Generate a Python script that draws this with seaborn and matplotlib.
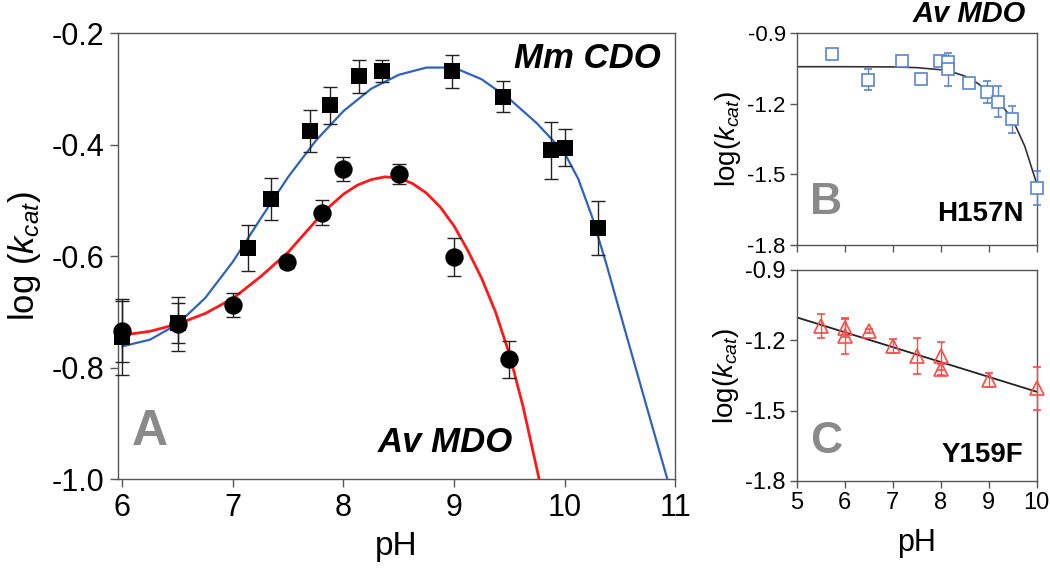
import numpy as np
import pandas as pd
import seaborn as sns
import matplotlib.pyplot as plt

# ---- panel A data: Mm CDO (squares) and Av MDO (circles) ----
cdo_ph = [6.0, 6.5, 7.14, 7.34, 7.70, 7.88, 8.14, 8.35, 8.98, 9.44, 9.88, 10.0, 10.3]
cdo_log = [-0.745, -0.72, -0.586, -0.498, -0.376, -0.330, -0.278, -0.268, -0.269, -0.314, -0.410, -0.406, -0.550]
cdo_err = [0.068, 0.036, 0.041, 0.038, 0.038, 0.033, 0.030, 0.020, 0.030, 0.028, 0.051, 0.033, 0.048]

mdo_ph = [6.0, 6.5, 7.0, 7.49, 7.81, 8.0, 8.5, 9.0, 9.5]
mdo_log = [-0.735, -0.722, -0.688, -0.611, -0.522, -0.444, -0.453, -0.601, -0.785]
mdo_err = [0.055, 0.048, 0.022, 0.010, 0.023, 0.021, 0.018, 0.034, 0.033]

# fitted curves
cdo_fit_ph = [6.0, 6.25, 6.5, 6.75, 7.0, 7.25, 7.5, 7.75, 8.0, 8.25, 8.5, 8.75, 9.0,
              9.25, 9.5, 9.75, 10.0, 10.125, 10.25, 10.375, 10.5, 10.75, 10.93]
cdo_fit_log = [-0.762, -0.750, -0.722, -0.675, -0.610, -0.533, -0.458, -0.393, -0.340, -0.300,
               -0.275, -0.262, -0.262, -0.283, -0.318, -0.362, -0.415, -0.462, -0.530, -0.612,
               -0.700, -0.875, -1.0]
mdo_fit_ph = [6.0, 6.25, 6.5, 6.75, 7.0, 7.25, 7.5, 7.75, 7.875, 8.0, 8.125, 8.25, 8.375,
              8.5, 8.625, 8.75, 8.875, 9.0, 9.125, 9.25, 9.375, 9.5, 9.625, 9.77]
mdo_fit_log = [-0.742, -0.735, -0.722, -0.703, -0.676, -0.637, -0.593, -0.537, -0.511, -0.489,
               -0.473, -0.463, -0.458, -0.460, -0.470, -0.487, -0.512, -0.546, -0.590, -0.640,
               -0.700, -0.775, -0.870, -1.0]

# ---- panel B: H157N ----
h157_ph = [5.73, 6.49, 7.19, 7.58, 7.99, 8.16, 8.16, 8.59, 8.96, 9.20, 9.49, 10.0]
h157_log = [-0.989, -1.098, -1.018, -1.094, -1.018, -1.020, -1.052, -1.112, -1.148, -1.190, -1.265, -1.559]
h157_err = [0.0, 0.045, 0.010, 0.005, 0.010, 0.010, 0.070, 0.010, 0.047, 0.065, 0.057, 0.073]
h157_fit_ph = [5.0, 6.0, 7.0, 7.5, 8.0, 8.25, 8.5, 8.75, 9.0, 9.25, 9.5, 9.75, 10.0]
h157_fit_log = [-1.042, -1.042, -1.043, -1.046, -1.055, -1.065, -1.082, -1.110, -1.148,
                -1.200, -1.268, -1.380, -1.540]

# ---- panel C: Y159F ----
y159_ph = [5.5, 6.0, 6.0, 6.5, 7.0, 7.5, 8.0, 8.0, 9.0, 10.0]
y159_log = [-1.140, -1.147, -1.183, -1.162, -1.224, -1.268, -1.268, -1.325, -1.371, -1.406]
y159_err = [0.050, 0.040, 0.075, 0.008, 0.030, 0.075, 0.060, 0.025, 0.030, 0.090]
y159_fit_ph = [5.0, 10.0]
y159_fit_log = [-1.103, -1.420]

sns.set_theme(style="white")
plt.rcParams["font.family"] = ["Liberation Sans", "DejaVu Sans"]
plt.rcParams["mathtext.fontset"] = "custom"
plt.rcParams["mathtext.rm"] = "Liberation Sans"
plt.rcParams["mathtext.it"] = "Liberation Sans:italic"
plt.rcParams["text.color"] = "black"
plt.rcParams["axes.labelcolor"] = "black"
plt.rcParams["xtick.color"] = "black"
plt.rcParams["ytick.color"] = "black"

SPINE = "#555555"
GRAY = "#8a8a8a"
BLUE = "#2f62c0"
RED = "#ff1a1a"
BLUE_B = "#5a84d2"
RED_C = "#ff4a4a"

fig = plt.figure(figsize=(10.5, 5.73), dpi=100)
axA = fig.add_axes([0.1124, 0.164, 0.5305, 0.7784])
axB = fig.add_axes([0.7588, 0.5724, 0.2286, 0.3695])
axC = fig.add_axes([0.7588, 0.1606, 0.2286, 0.3687])

for ax in (axA, axB, axC):
    for s in ax.spines.values():
        s.set_color(SPINE)
        s.set_linewidth(1.0)

# panel A
sns.lineplot(x=cdo_fit_ph, y=cdo_fit_log, ax=axA, color=BLUE, lw=1.6, sort=False, estimator=None)
sns.lineplot(x=mdo_fit_ph, y=mdo_fit_log, ax=axA, color=RED, lw=2.0, sort=False, estimator=None)
axA.errorbar(cdo_ph, cdo_log, yerr=cdo_err, fmt="none", ecolor="#222222", elinewidth=1.0,
             capsize=5, capthick=1.0, zorder=3, clip_on=False)
axA.errorbar(mdo_ph, mdo_log, yerr=mdo_err, fmt="none", ecolor="#222222", elinewidth=1.0,
             capsize=5, capthick=1.0, zorder=3, clip_on=False)
sns.scatterplot(x=cdo_ph, y=cdo_log, ax=axA, marker="s", s=144, color="black",
                edgecolor="black", linewidth=0, zorder=4, clip_on=False)
sns.scatterplot(x=mdo_ph, y=mdo_log, ax=axA, marker="o", s=175, color="black",
                edgecolor="black", linewidth=0, zorder=4, clip_on=False)
axA.set_xlim(5.96, 11)
axA.set_ylim(-1.0, -0.2)
axA.set_xticks([6, 7, 8, 9, 10, 11])
axA.set_yticks([-1.0, -0.8, -0.6, -0.4, -0.2])
axA.set_yticklabels(["-1.0", "-0.8", "-0.6", "-0.4", "-0.2"])
axA.tick_params(axis="both", direction="out", length=6, width=1, color=SPINE,
                labelsize=22, labelcolor="black", left=True, bottom=True, pad=4)
axA.set_xlabel("pH", fontsize=24, labelpad=6)
axA.set_ylabel(r"log ($k_{cat}$)", fontsize=25, labelpad=6)
axA.text(10.87, -0.245, "Mm CDO", fontsize=25, fontweight="bold", fontstyle="italic",
         ha="right", va="center")
axA.text(9.53, -0.935, "Av MDO", fontsize=25, fontweight="bold", fontstyle="italic",
         ha="right", va="center")
axA.text(6.08, -0.915, "A", fontsize=36, fontweight="bold", color=GRAY, ha="left", va="center")

# panel B
sns.lineplot(x=h157_fit_ph, y=h157_fit_log, ax=axB, color="#333333", lw=1.2, sort=False, estimator=None)
axB.errorbar(h157_ph, h157_log, yerr=h157_err, fmt="s", ms=8.5, mfc="white", mec=BLUE_B,
             mew=1.2, ecolor=BLUE_B, elinewidth=1.0, capsize=3, capthick=1.0, zorder=3,
             clip_on=False)
axB.set_xlim(5, 10)
axB.set_ylim(-1.8, -0.9)
axB.set_xticks([5, 6, 7, 8, 9, 10])
axB.set_xticklabels([])
axB.set_yticks([-1.8, -1.5, -1.2, -0.9])
axB.set_yticklabels(["-1.8", "-1.5", "-1.2", "-0.9"])
axB.tick_params(axis="both", direction="out", length=5, width=1, color=SPINE,
                labelsize=16, labelcolor="black", left=True, bottom=True, pad=3)
axB.set_ylabel(r"log($k_{cat}$)", fontsize=20, labelpad=3)
axB.text(5.27, -1.62, "B", fontsize=32, fontweight="bold", color=GRAY, ha="left", va="center")
axB.text(9.72, -1.67, "H157N", fontsize=20, fontweight="bold", ha="right", va="center")
axB.text(8.6, -0.82, "Av MDO", fontsize=21, fontweight="bold", fontstyle="italic",
         ha="center", va="center")

# panel C
sns.lineplot(x=y159_fit_ph, y=y159_fit_log, ax=axC, color="#222222", lw=1.3, sort=False, estimator=None)
axC.errorbar(y159_ph, y159_log, yerr=y159_err, fmt="^", ms=10, mfc="none", mec=RED_C,
             mew=1.2, ecolor=RED_C, elinewidth=1.0, capsize=3, capthick=1.0, zorder=3,
             clip_on=False)
axC.set_xlim(5, 10)
axC.set_ylim(-1.8, -0.9)
axC.set_xticks([5, 6, 7, 8, 9, 10])
axC.set_yticks([-1.8, -1.5, -1.2, -0.9])
axC.set_yticklabels(["-1.8", "-1.5", "-1.2", "-0.9"])
axC.tick_params(axis="both", direction="out", length=5, width=1, color=SPINE,
                labelsize=17, labelcolor="black", left=True, bottom=True, pad=3)
axC.set_xlabel("pH", fontsize=22, labelpad=10)
axC.set_ylabel(r"log($k_{cat}$)", fontsize=20, labelpad=3)
axC.text(5.27, -1.63, "C", fontsize=32, fontweight="bold", color=GRAY, ha="left", va="center")
axC.text(9.72, -1.69, "Y159F", fontsize=20, fontweight="bold", ha="right", va="center")

fig.savefig("out.png", dpi=100)
